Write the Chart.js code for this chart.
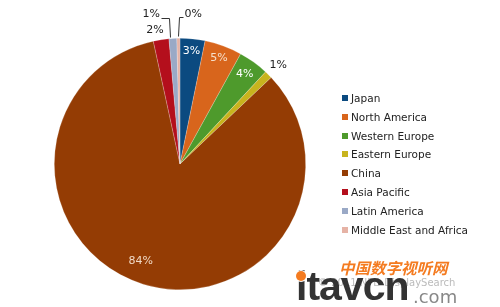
<!DOCTYPE html>
<html>
<head>
<meta charset="utf-8">
<script src="https://cdn.jsdelivr.net/npm/chart.js@4/dist/chart.umd.min.js"></script>
<style>
  html, body { margin: 0; padding: 0; background: #fff; }
  #wrap { position: relative; width: 500px; height: 307px; overflow: hidden; }
  #pie { position: absolute; left: 0; top: 0; }
  #legend { position: absolute; left: 342px; top: 91px; font-family: "DejaVu Sans", Verdana, sans-serif; font-size: 10.5px; color: #222; }
  #legend div { height: 18.8px; line-height: 14px; white-space: nowrap; }
  #legend span { display: inline-block; width: 6px; height: 6px; margin-right: 3px; vertical-align: 1px; }
  .wm { position: absolute; white-space: nowrap; }
</style>
</head>
<body>
<div id="wrap">
  <canvas id="pie" width="500" height="307"></canvas>
  <div id="legend"></div>
  <div class="wm" style="left:339px;top:256px;font:bold italic 15.5px 'Noto Sans CJK SC';color:#f47b20;">中国数字视听网</div>
  <div class="wm" style="left:318px;top:277px;font:10px 'DejaVu Sans';color:#bbb;">© 2011 NPD DisplaySearch</div>
  <div class="wm" style="left:296px;top:263px;font:bold 41px 'Liberation Sans';color:#333;letter-spacing:-1px;">itavcn</div>
  <div class="wm" style="left:296px;top:271px;width:10px;height:10px;border-radius:50%;background:#f47b20;box-shadow:0 0 0 1px #fff;"></div>
  <div class="wm" style="left:413px;top:286px;font:18px 'DejaVu Sans';color:#888;">.com</div>
</div>
<script>
// regions and their share of shipments (%)
const regions = ['Japan', 'North America', 'Western Europe', 'Eastern Europe', 'China', 'Asia Pacific', 'Latin America', 'Middle East and Africa'];
const shares = [3.2, 4.8, 3.9, 1.0, 83.6, 2.0, 1.0, 0.4];
const colors = ['#0b4a80', '#d8651c', '#4e9a2c', '#c8b41e', '#943c04', '#b40f1c', '#9aa9c6', '#e6b3a6'];

// where each percent label goes: inside the slice, outside, or on a leader line
const labelSpots = [
    { r: 0.9, color: '#fff' },
    { r: 0.9, color: '#f5e0cc' },
    { r: 0.88, color: '#fff' },
    { r: 1.11, color: '#222' },
    { r: 0.83, color: '#f0d8c4', turn: 5 },
    { r: 1.08, color: '#222', turn: -2 },
    { leader: [[-3, -2], [-4, -21], [-12, -21]], align: 'right', color: '#222' },
    { leader: [[0, -2], [1, -21], [5, -21]], align: 'left', color: '#222' }
];

const legend = document.getElementById('legend');
regions.forEach((name, i) => {
    const row = document.createElement('div');
    const box = document.createElement('span');
    box.style.background = colors[i];
    row.appendChild(box);
    row.appendChild(document.createTextNode(name));
    legend.appendChild(row);
});

const percentLabels = {
    id: 'percentLabels',
    afterDatasetsDraw(chart) {
        const ctx = chart.ctx;
        const arcs = chart.getDatasetMeta(0).data;
        ctx.save();
        ctx.font = '11px "DejaVu Sans", Verdana, sans-serif';
        ctx.textBaseline = 'middle';
        arcs.forEach((arc, i) => {
            const spot = labelSpots[i];
            const text = Math.round(shares[i]) + '%';
            const mid = (arc.startAngle + arc.endAngle) / 2 + (spot.turn || 0) * Math.PI / 180;
            ctx.fillStyle = spot.color;
            if (spot.leader) {
                const ex = arc.x + arc.outerRadius * Math.cos(mid);
                const ey = arc.y + arc.outerRadius * Math.sin(mid);
                ctx.strokeStyle = '#333';
                ctx.lineWidth = 1;
                ctx.beginPath();
                spot.leader.forEach(([dx, dy], k) => {
                    const px = Math.round(ex + dx) + 0.5, py = Math.round(ey + dy) + 0.5;
                    if (k === 0) ctx.moveTo(px, py); else ctx.lineTo(px, py);
                });
                ctx.stroke();
                const last = spot.leader[spot.leader.length - 1];
                ctx.textAlign = spot.align;
                ctx.fillText(text, ex + last[0] + (spot.align === 'left' ? 1 : -1), ey + last[1] - 3);
            } else {
                const rr = arc.outerRadius * spot.r;
                ctx.textAlign = 'center';
                ctx.fillText(text, arc.x + rr * Math.cos(mid), arc.y + rr * Math.sin(mid));
            }
        });
        ctx.restore();
    }
};

new Chart(document.getElementById('pie'), {
    type: 'pie',
    data: {
        labels: regions,
        datasets: [{
            data: shares,
            backgroundColor: colors,
            borderColor: 'rgba(255,255,255,0.35)',
            borderWidth: 0.6
        }]
    },
    options: {
        responsive: false,
        animation: false,
        layout: { padding: { left: 54, right: 194, top: 38, bottom: 17 } },
        plugins: {
            legend: { display: false },
            tooltip: { enabled: false }
        }
    },
    plugins: [percentLabels]
});
</script>
</body>
</html>
